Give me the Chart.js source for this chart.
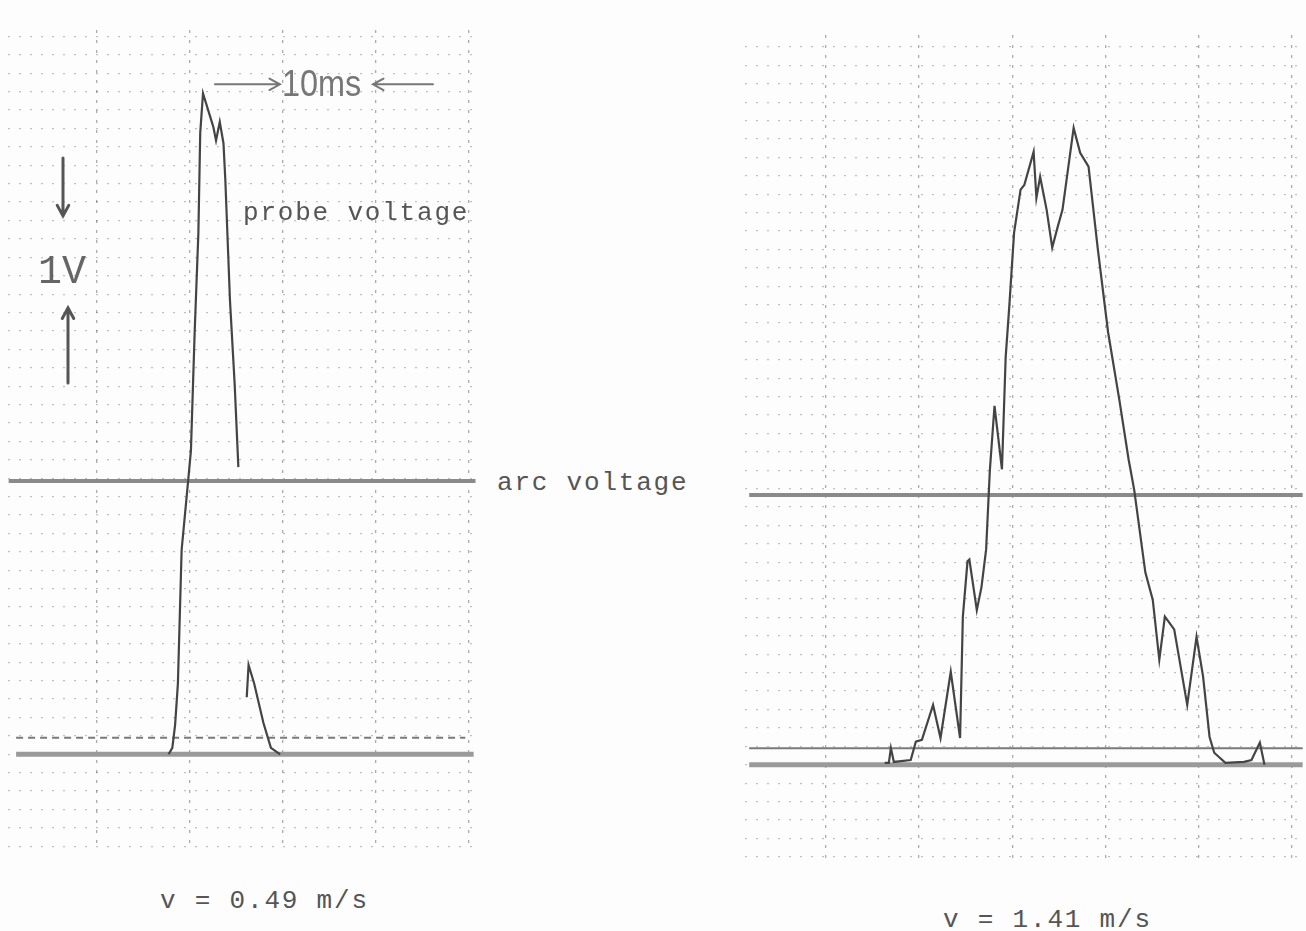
<!DOCTYPE html>
<html>
<head>
<meta charset="utf-8">
<script src="https://cdn.jsdelivr.net/npm/chart.js@4.4.1/dist/chart.umd.min.js"></script>
<style>
  body { margin: 0; background: #fff; }
  #page { position: relative; width: 1306px; height: 931px; overflow: hidden; background: #fdfdfd; }
  canvas { position: absolute; }
  .typed { position: absolute; font-family: "Liberation Mono", "DejaVu Sans Mono", monospace; font-size: 26px; line-height: 30px; color: #555; white-space: nowrap; letter-spacing: 1.8px; }
  .hand { position: absolute; font-family: "Liberation Sans", sans-serif; font-size: 36px; line-height: 36px; color: #777; white-space: nowrap; transform: scaleX(0.9); transform-origin: left top; }
</style>
</head>
<body>
<div id="page">
  <canvas id="left" width="470" height="820" style="left:8px;top:30px"></canvas>
  <canvas id="right" width="560" height="830" style="left:745px;top:35px"></canvas>

  <div class="hand" style="left:282px;top:66px">10ms</div>
  <div class="typed" style="left:243px;top:198px">probe voltage</div>
  <div class="typed" style="left:38px;top:253px;font-size:40px;line-height:40px;letter-spacing:0;color:#666">1V</div>
  <div class="typed" style="left:497px;top:468px">arc voltage</div>
  <div class="typed" style="left:160px;top:886px">v = 0.49 m/s</div>
  <div class="typed" style="left:943px;top:905px">v = 1.41 m/s</div>
</div>
<script>
// time in ms, voltage in V (0 = trace baseline)
const leftTime  = [17.7, 18.1, 18.4, 18.7, 19.1, 19.8, 20.1, 20.5, 20.9, 21.1, 21.4, 22.5, 22.8, 23.2, 23.6, 23.8, 24.3, 24.8, 25.2, 25.6, 26.1, 26.3, 26.9, 27.9, 28.7, 29.7];
const leftProbe = [0, 0.07, 0.32, 0.77, 2.22, 2.97, 3.30, 4.58, 5.66, 6.75, 7.18, 6.82, 6.67, 6.87, 6.64, 6.24, 4.93, 4.03, 3.12, null, 0.62, 0.97, 0.77, 0.34, 0.07, 0];

const rightTime  = [16.3, 16.75, 16.97, 17.29, 19.1, 19.65, 20.3, 21.5, 22.3, 23.4, 24.4, 24.7, 25.2, 25.4, 26.2, 26.7, 27.2, 27.6, 28.1, 28.9, 29.3, 29.7, 30.2, 30.9, 31.3, 32.3, 32.6, 33.0, 33.7, 34.3, 34.9, 35.4, 36.6, 37.3, 38.2, 39.2, 40.3, 41.5, 42.5, 43.1, 44.3, 45.1, 45.8, 46.4, 47.4, 48.8, 49.8, 50.5, 51.2, 51.7, 52.9, 54.9, 55.7, 56.6, 57.1];
const rightProbe = [0.02, 0.02, 0.18, 0.03, 0.05, 0.25, 0.27, 0.65, 0.29, 1.01, 0.29, 1.61, 2.21, 2.23, 1.68, 1.93, 2.34, 3.2, 3.90, 3.21, 4.43, 5.0, 5.78, 6.25, 6.30, 6.66, 6.16, 6.39, 6.03, 5.62, 5.85, 6.03, 6.92, 6.65, 6.50, 5.60, 4.70, 3.97, 3.32, 2.99, 2.09, 1.79, 1.14, 1.61, 1.47, 0.65, 1.39, 0.96, 0.30, 0.13, 0.02, 0.03, 0.05, 0.24, 0.0];

const leftArc = 2.97;
const rightArc = 2.93;
const refLevel = 0.18;
const leftSpan = [1.3, 50.5];
const leftArcSpan = [0.5, 50.7];
const leftRefSpan = [1.3, 49.6];
const rightSpan = [1.75, 61.2];

const tenMsSpan = [30, 40];
const tenMsLevel = 7.28;
const oneVoltSpan = [4.85, 5.85];

function pts(xs, ys) { return xs.map((x, i) => ({ x: x, y: ys[i] })); }
function flat(span, v) { return [{ x: span[0], y: v }, { x: span[1], y: v }]; }

function arrow(ctx, x0, y0, x1, y1) {
  const a = Math.atan2(y1 - y0, x1 - x0), h = 12;
  ctx.beginPath();
  ctx.moveTo(x0, y0); ctx.lineTo(x1, y1);
  ctx.moveTo(x1 - h * Math.cos(a - 0.5), y1 - h * Math.sin(a - 0.5));
  ctx.lineTo(x1, y1);
  ctx.lineTo(x1 - h * Math.cos(a + 0.5), y1 - h * Math.sin(a + 0.5));
  ctx.stroke();
}

const scaleMarks = {
  id: 'scaleMarks',
  afterDatasetsDraw(chart) {
    const { ctx, scales: { x, y } } = chart;
    ctx.save();
    ctx.strokeStyle = '#777'; ctx.lineWidth = 2; ctx.lineCap = 'round';
    const yt = y.getPixelForValue(tenMsLevel);
    const xa = x.getPixelForValue(tenMsSpan[0]) - 3;
    const xb = x.getPixelForValue(tenMsSpan[1]) - 3;
    arrow(ctx, xa - 65, yt, xa, yt);
    arrow(ctx, xb + 60, yt, xb, yt);
    ctx.strokeStyle = '#555'; ctx.lineWidth = 3;
    const ya = y.getPixelForValue(oneVoltSpan[1]);
    const yb = y.getPixelForValue(oneVoltSpan[0]);
    arrow(ctx, 55, ya - 58, 55, ya);
    arrow(ctx, 60, yb + 75, 60, yb);
    ctx.restore();
  }
};

function scope(id, probe, arc, base, ref, refDash, xr, yr, extra) {
  return new Chart(document.getElementById(id), {
    type: 'line',
    data: {
      datasets: [
        { data: probe, borderColor: '#444', borderWidth: 2.2, tension: 0, spanGaps: false },
        { data: arc, borderColor: '#8a8a8a', borderWidth: 4 },
        { data: ref, borderColor: '#7a7a7a', borderWidth: 2, borderDash: refDash },
        { data: base, borderColor: '#9a9a9a', borderWidth: 5 }
      ]
    },
    options: {
      responsive: false,
      animation: false,
      layout: { padding: 0 },
      elements: { point: { radius: 0 } },
      plugins: { legend: { display: false }, tooltip: { enabled: false } },
      scales: {
        x: {
          type: 'linear', min: xr[0], max: xr[1],
          ticks: { display: false, stepSize: 10, includeBounds: false },
          border: { display: false, dash: [3, 7] },
          grid: { drawTicks: false, color: 'rgba(90,90,90,0.5)', lineWidth: 1.3 }
        },
        y: {
          type: 'linear', min: yr[0], max: yr[1],
          ticks: { display: false, stepSize: 0.2, includeBounds: false },
          border: { display: false, dash: [2, 9] },
          grid: { drawTicks: false, color: 'rgba(100,100,100,0.4)', lineWidth: 1.2 }
        }
      }
    },
    plugins: extra
  });
}

scope('left', pts(leftTime, leftProbe), flat(leftArcSpan, leftArc), flat(leftSpan, 0),
      flat(leftRefSpan, refLevel), [7, 5], [0.43, 50.97], [-1.04, 7.87], [scaleMarks]);
scope('right', pts(rightTime, rightProbe), flat(rightSpan, rightArc), flat(rightSpan, 0),
      flat(rightSpan, refLevel), [], [1.3, 61.45], [-1.09, 7.93], []);
</script>
</body>
</html>
